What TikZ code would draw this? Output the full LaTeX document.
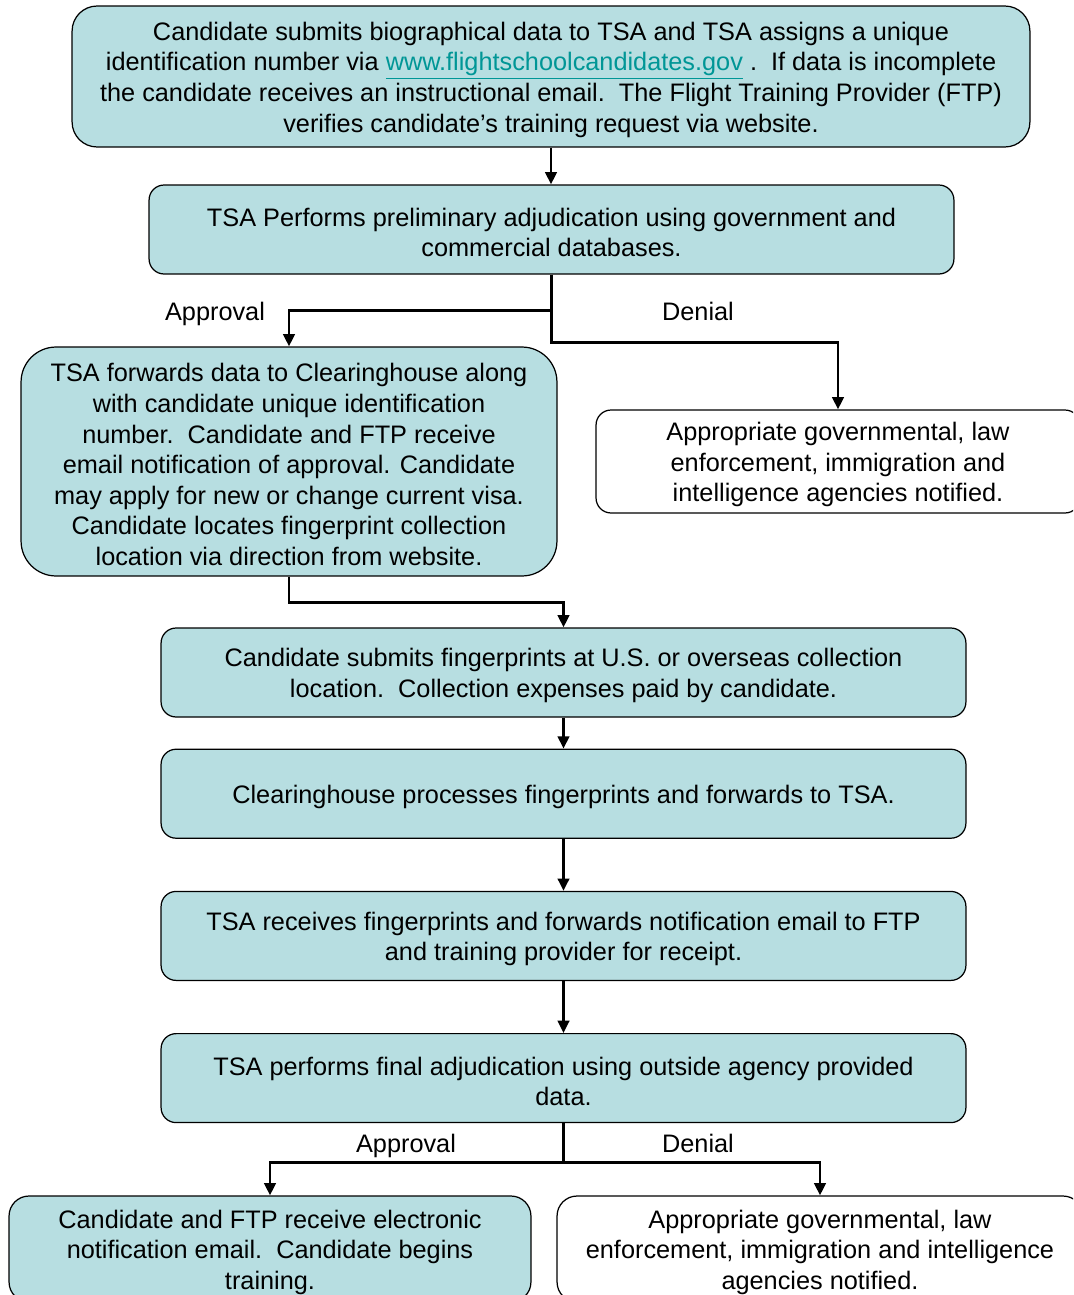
\documentclass[tikz,border=0pt]{standalone}
\usepackage{fontspec}
\setmainfont{Liberation Sans}
\usepackage{tikz}
\usetikzlibrary{positioning}
\usetikzlibrary{arrows.meta}
\usetikzlibrary{calc}
\definecolor{boxteal}{RGB}{183,222,225}
\definecolor{linkteal}{RGB}{0,150,150}
\newcommand{\tsalink}[1]{\textcolor{linkteal}{\underline{#1}}}
\newcommand{\linestrut}{\rule{0pt}{14pt}}
\tikzset{tsa node/.style={rectangle,rounded corners=0.3cm,draw,fill=boxteal,line width=0.7pt,align=center,inner sep=0pt,minimum width=16.1cm,minimum height=1.78cm},
         alert node/.style={tsa node,fill=white},
         branch label/.style={inner sep=0pt,anchor=base},}

\begin{document}
\begin{tikzpicture}[x=0.02cm, y=-0.02cm, >={Triangle[length=7pt,width=6.5pt]}, font=\fontsize{14.4}{17.4}\selectfont, line width=1.6pt]
	\useasboundingbox (0,0) rectangle (1073,1295);
	\clip (0,0) rectangle (1073,1295);
		\node[tsa node, rounded corners=0.5cm, minimum width=19.16cm, minimum height=2.82cm] (submit) at (551,76.5)
		{\linestrut Candidate submits biographical data to TSA and TSA assigns a unique\\
		 identification number via \tsalink{www.flightschoolcandidates.gov} .\ \ If data is incomplete\\
		 the candidate receives an instructional email.\ \ The Flight Training Provider (FTP)\\
		 verifies candidate’s training request via website.};
	    \node[tsa node] (prelim) at (551.5,229.5)
	    {\linestrut TSA Performs preliminary adjudication using government and\\ commercial databases.};
	    \node[tsa node, rounded corners=0.7cm, minimum width=10.72cm, minimum height=4.58cm] (forward) at (289,461.5)
	    {\linestrut TSA forwards data to Clearinghouse along\\ with candidate unique identification\\
	     number.\ \ Candidate and FTP receive\\ email notification of approval. Candidate\\
	     may apply for new or change current visa.\\ Candidate locates fingerprint collection\\
	     location via direction from website.};
	    \node[alert node, minimum width=9.68cm, minimum height=2.06cm] (notifyA) at (838,461.5)
	    {\linestrut Appropriate governmental, law\\ enforcement, immigration and\\ intelligence agencies notified.};
	    \node[tsa node] (prints) at (563.5,672.5)
	    {\linestrut Candidate submits fingerprints at U.S. or overseas collection\\ location.\ \ Collection expenses paid by candidate.};
	    \node[tsa node] (clearing) [below = 0.62cm of prints]
	    {\linestrut Clearinghouse processes fingerprints and forwards to TSA.};
	    \node[tsa node] (receive) [below = 1.04cm of clearing]
	    {\linestrut TSA receives fingerprints and forwards notification email to FTP\\ and training provider for receipt.};
	    \node[tsa node] (final) [below = 1.04cm of receive]
	    {\linestrut TSA performs final adjudication using outside agency provided\\ data.};
	    \node[tsa node, rounded corners=0.4cm, minimum width=10.44cm, minimum height=2.12cm] (training) at (270,1249)
	    {\linestrut Candidate and FTP receive electronic\\ notification email.\ \ Candidate begins\\ training.};
	    \node[alert node, rounded corners=0.4cm, minimum width=10.52cm, minimum height=2.12cm] (notifyB) at (820,1249)
	    {\linestrut Appropriate governmental, law\\ enforcement, immigration and intelligence\\ agencies notified.};

	    \node[branch label] (approvalA) at (215,320) {Approval};
	    \node[branch label] (denialA) at (698,320) {Denial};
	    \node[branch label] (approvalB) at (406,1152) {Approval};
	    \node[branch label] (denialB) at (698,1152) {Denial};

	    \draw[->] (submit.south) -- (submit.south |- prelim.north);
	    \draw[->] (prelim.south) -- ++(0,36) -| (forward.north);
	    \draw[->] (prelim.south) -- ++(0,68) -| (notifyA.north);
	    \draw[->] (forward.south) -- ++(0,26) -| (prints.north);
	    \draw[->] (prints) -- (clearing);
	    \draw[->] (clearing) -- (receive);
	    \draw[->] (receive) -- (final);
	    \draw[->] (final.south) -- ++(0,39) -| (training.north);
	    \draw[->] (final.south) -- ++(0,39) -| (notifyB.north);
	\end{tikzpicture}
\end{document}
